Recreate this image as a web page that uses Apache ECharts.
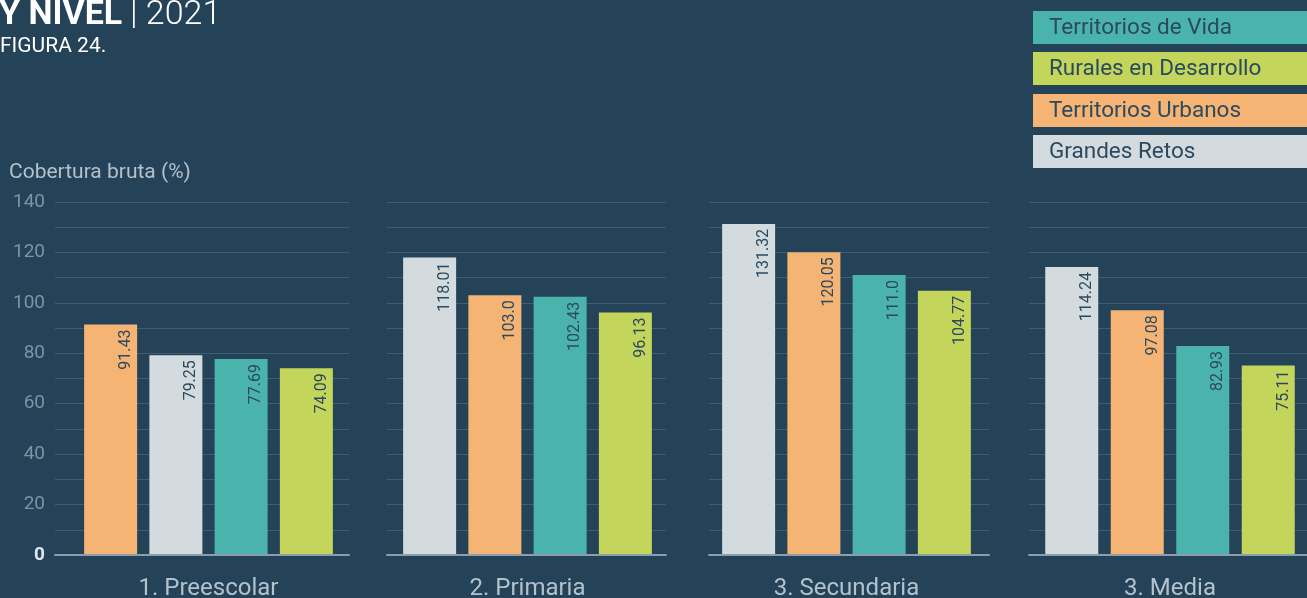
<!DOCTYPE html>
<html><head><meta charset="utf-8">
<script src="https://cdn.jsdelivr.net/npm/echarts@6/dist/echarts.min.js"></script>
<style>html,body{margin:0;padding:0;background:#244258;overflow:hidden}#c{width:1307px;height:598px}</style>
</head><body><div id="c"></div>
<script>
// ---- data ----
const levels = ['1. Preescolar', '2. Primaria', '3. Secundaria', '3. Media'];
const territorios = ['Territorios de Vida', 'Rurales en Desarrollo', 'Territorios Urbanos', 'Grandes Retos'];
const territoriosDeVida = [77.69, 102.43, 111.0, 82.93];
const ruralesEnDesarrollo = [74.09, 96.13, 104.77, 75.11];
const territoriosUrbanos = [91.43, 103.0, 120.05, 97.08];
const grandesRetos = [79.25, 118.01, 131.32, 114.24];
const yTicks = [0, 20, 40, 60, 80, 100, 120, 140];

// ---- styles / layout ----
const seriesValues = [territoriosDeVida, ruralesEnDesarrollo, territoriosUrbanos, grandesRetos];
const colors = ['#4ab3ac', '#c4d55b', '#f5b473', '#d3dbdf'];
const BG = '#244258';
const FONT = 'Roboto';
const gridLineBox = [[55, 294], [387, 279], [709, 280], [1029, 290]];
const barBox = [[78, 261], [397, 261], [716, 261], [1039, 262]];
const TOP = 202, BOTTOM = 43;

const grids = [], xAxes = [], yAxes = [], series = [];
levels.forEach((lvl, i) => {
  grids.push({left: gridLineBox[i][0], width: gridLineBox[i][1], top: TOP, bottom: BOTTOM, containLabel: false, outerBoundsMode: 'none'});
  grids.push({left: barBox[i][0], width: barBox[i][1], top: TOP, bottom: BOTTOM, containLabel: false, outerBoundsMode: 'none'});
  const items = territorios.map((t, k) => ({name: t, value: seriesValues[k][i], color: colors[k]}))
    .sort((a, b) => b.value - a.value);
  xAxes.push({
    type: 'category', gridIndex: 2 * i, data: [''],
    axisLine: {show: true, lineStyle: {color: '#8c9dab', width: 2}},
    axisTick: {show: false}, axisLabel: {show: false}, z: 5
  });
  xAxes.push({
    type: 'category', gridIndex: 2 * i + 1, data: items.map(d => d.name),
    axisLine: {show: false}, axisTick: {show: false}, axisLabel: {show: false},
    name: lvl, nameLocation: 'middle', nameGap: 22,
    nameTextStyle: {color: '#b4c2cc', fontSize: 24, fontFamily: FONT}
  });
  yAxes.push({
    type: 'value', gridIndex: 2 * i, min: yTicks[0], max: yTicks[yTicks.length - 1], interval: yTicks[1] - yTicks[0],
    axisLine: {show: false}, axisTick: {show: false},
    splitLine: {show: true, lineStyle: {color: '#3f5d72', width: 1}},
    minorTick: {show: false, splitNumber: 2},
    minorSplitLine: {show: true, lineStyle: {color: '#3f5d72', width: 1}},
    axisLabel: {
      show: i === 0, margin: 10,
      formatter: v => v === 0 ? '{z|0}' : '{n|' + v + '}',
      rich: {
        z: {color: '#dfe6ea', fontSize: 19, fontWeight: 'bold', fontFamily: FONT},
        n: {color: '#7e94a4', fontSize: 19, fontFamily: FONT}
      }
    }
  });
  yAxes.push({
    type: 'value', gridIndex: 2 * i + 1, min: yTicks[0], max: yTicks[yTicks.length - 1], show: false,
    splitLine: {show: false}
  });
  series.push({
    type: 'bar', xAxisIndex: 2 * i + 1, yAxisIndex: 2 * i + 1, barWidth: 53,
    data: items.map(d => ({value: d.value, itemStyle: {color: d.color}})),
    label: {
      show: true, position: ['79%', 5], rotate: 90, align: 'right', verticalAlign: 'middle',
      fontSize: 16, fontFamily: FONT, color: '#2b4a5f',
      formatter: p => Number.isInteger(p.value) ? p.value.toFixed(1) : String(p.value)
    }
  });
});

const graphic = [
  {type: 'text', x: -1, y: 15, style: {text: 'Y NIVEL', fontSize: 34, fontWeight: 'bold', fill: '#ffffff', fontFamily: FONT, verticalAlign: 'middle'}},
  {type: 'text', x: 130, y: 15, style: {text: '| 2021', fontSize: 34, fontWeight: 300, fill: '#ffffff', fontFamily: FONT, verticalAlign: 'middle'}},
  {type: 'text', x: 0, y: 46.5, style: {text: 'FIGURA 24.', fontSize: 21, fill: '#ffffff', fontFamily: FONT, verticalAlign: 'middle'}},
  {type: 'text', x: 9, y: 173, style: {text: 'Cobertura bruta (%)', fontSize: 21, fill: '#b4c1ca', fontFamily: FONT, verticalAlign: 'middle'}}
];
const legendTops = [11, 52, 94, 135];
territorios.forEach((t, k) => {
  graphic.push({type: 'rect', shape: {x: 1033, y: legendTops[k], width: 280, height: 33}, style: {fill: colors[k]}});
  graphic.push({type: 'text', x: 1049, y: legendTops[k] + 17, style: {text: t, fontSize: 22.5, fill: '#2b4a5f', fontFamily: FONT, verticalAlign: 'middle'}});
});

const chart = echarts.init(document.getElementById('c'), null, {renderer: 'canvas'});
chart.setOption({
  backgroundColor: BG, animation: false,
  grid: grids, xAxis: xAxes, yAxis: yAxes, series: series, graphic: graphic
});
</script></body></html>
